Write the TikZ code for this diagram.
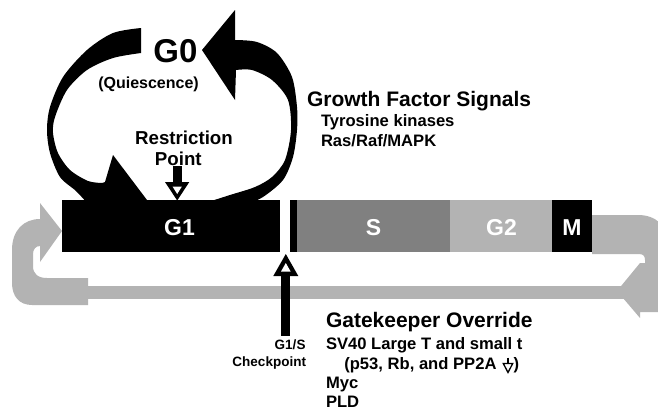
\documentclass[tikz,border=0pt]{standalone}
\usepackage{fontspec}
\setmainfont{Liberation Sans}
\definecolor{lgray}{HTML}{B3B3B3}
\definecolor{mgray}{HTML}{808080}
\begin{document}
\begin{tikzpicture}[x=1pt,y=-1pt,
  lbl/.style={inner sep=0pt, outer sep=0pt},
  fbig/.style={lbl, font=\bfseries\fontsize{33}{38}\selectfont},
  fhead/.style={lbl, font=\bfseries\fontsize{21}{25}\selectfont},
  fmid/.style={lbl, font=\bfseries\fontsize{18.7}{22}\selectfont},
  fbody/.style={lbl, font=\bfseries\fontsize{16.6}{20}\selectfont},
  fquies/.style={lbl, font=\bfseries\fontsize{16}{19}\selectfont},
  fsmall/.style={lbl, font=\bfseries\fontsize{13.5}{16}\selectfont},
  barlbl/.style={lbl, text=white, font=\bfseries\fontsize{23}{27}\selectfont, anchor=base},
  cyclearrow/.style={fill=lgray, draw=none},
  loopfill/.style={fill=black, draw=none}]
\useasboundingbox (0,0) rectangle (658,410);
\begin{scope}
\clip (0,0) rectangle (658,410);
% gray cycle arrows
\fill[cyclearrow] (88,305) -- (32,305) .. controls (19,305) and (12,296) .. (12,283) -- (12,250)
  .. controls (12,230) and (24,219) .. (40,219) -- (40,203) -- (62,231) -- (40,262) -- (40,246)
  .. controls (36,246) and (33,249) .. (33,254) -- (33,266) .. controls (33,274) and (38,278) .. (47,278)
  -- (88,278) -- cycle;
\fill[cyclearrow] (86,286) rectangle (625,299);
\fill[cyclearrow] (592,215) -- (638,215) .. controls (656,215) and (668,226) .. (668,244) -- (668,312)
  -- (640,312) -- (640,318) -- (617,291) -- (640,263) -- (645,263) -- (645,260)
  .. controls (645,256) and (643,254) .. (639,254) -- (592,254) -- cycle;
% G0 loop: left arc with head into G1
\fill[loopfill] plot[smooth] coordinates {(141,28) (113,33) (87,50) (63,77) (50,107) (47,130) (50,153) (60,177) (76,191) (88,204)}
  -- (150,204) -- (113,155) -- (105,182)
  -- plot[smooth] coordinates {(102,183) (88,181) (70,170) (58,153) (53,133) (55,117) (67,90) (87,70) (113,58) (141,53)} -- cycle;
% right arc with head pointing to G0
\fill[loopfill] plot[smooth] coordinates {(205,203) (230,195) (255,187) (272,177) (285,160) (291,130) (288,100) (272,80) (252,70) (236,70)}
  -- (235,100) -- (202,50) -- (235,10) -- (235,40)
  -- plot[smooth] coordinates {(236,40) (257,42) (277,53) (292,77) (297,107) (297,130) (293,157) (283,180) (263,197) (247,204)} -- cycle;
\end{scope}
% cell cycle bar
\fill[black] (62,200) rectangle (280,252);
\fill[black] (290,200) rectangle (297,252);
\fill[mgray] (297,200) rectangle (450,252);
\fill[lgray] (450,200) rectangle (552,252);
\fill[black] (552,200) rectangle (592,252);
\node[barlbl] (g1) at (179.5,235.5) {G1};
\node[barlbl] (s) at (373.5,235.5) {S};
\node[barlbl] (g2) at (501.5,235.5) {G2};
\node[barlbl] (m) at (572,235.5) {M};
% restriction point arrow
\fill[black] (172.7,166) rectangle (181.7,183);
\fill[black] (165,182) -- (189.3,182) -- (177.2,200.5) -- cycle;
\fill[white] (172.5,186.5) -- (181.9,186.5) -- (177.2,194) -- cycle;
% G1/S checkpoint arrow
\fill[black] (280.7,274) rectangle (290,336);
\fill[black] (273.3,276) -- (298.3,276) -- (285.8,254) -- cycle;
\fill[white] (281,271.5) -- (290.6,271.5) -- (285.8,263) -- cycle;
% texts
\node[fbig, anchor=base] (g0) at (175.5,62) {G0};
\node[fquies, anchor=base] (quies) at (148.5,88) {(Quiescence)};
\node[fmid, anchor=base] (restr) at (184,144.3) {Restriction};
\node[fmid, anchor=base] (point) at (178.3,165) {Point};
\node[fhead, anchor=base west] (gfs) at (307,106.7) {Growth Factor Signals};
\node[fbody, anchor=base west] (tyr) at (321,126.7) {Tyrosine kinases};
\node[fbody, anchor=base west] (ras) at (321,146.7) {Ras/Raf/MAPK};
\node[fsmall, anchor=base east] (g1s) at (305.5,349) {G1/S};
\node[fsmall, anchor=base east] (chk) at (306,366.7) {Checkpoint};
\node[fhead, anchor=base west] (gko) at (326,327.7) {Gatekeeper Override};
\node[fbody, anchor=base west] (sv40) at (326,349.3) {SV40 Large T and small t};
\node[fbody, anchor=base west] (p53) at (344.3,369.3) {(p53, Rb, and PP2A};
\node[fbody, anchor=base west] (paren) at (513.5,369.3) {)};
\node[fbody, anchor=base west] (myc) at (326,388.5) {Myc};
\node[fbody, anchor=base west] (pld) at (326,407.5) {PLD};
% small down arrow (PP2A decreased)
\draw[line width=1.3pt] (508,357.5) -- (508,363.5);
\draw[line width=1.3pt, fill=white, line join=miter] (503.3,363.5) -- (512.7,363.5) -- (508,372.5) -- cycle;
\end{tikzpicture}
\end{document}
